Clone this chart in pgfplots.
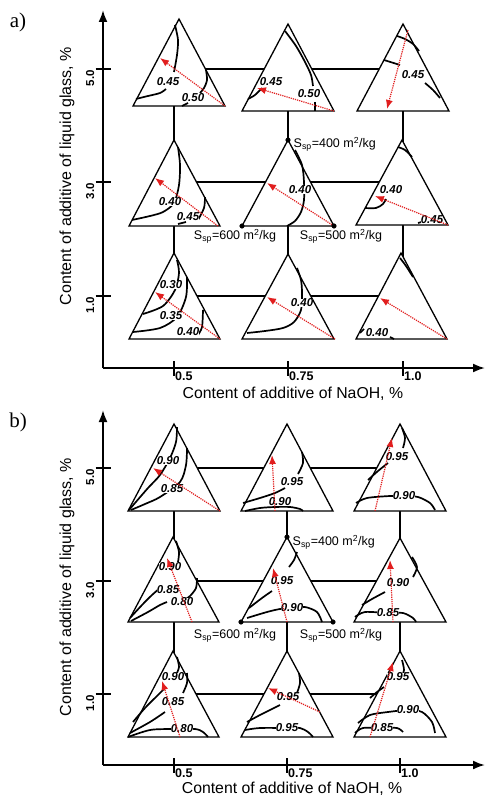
\documentclass[border=0pt]{standalone}
\usepackage{fontspec}
\setmainfont{Liberation Sans}
\newfontfamily\seriffont{Liberation Serif}
\usepackage{pgfplots}
\pgfplotsset{compat=1.18}
\usetikzlibrary{arrows.meta}
\definecolor{arr}{RGB}{225,30,30}
\tikzset{
  cont/.style={smooth, line width=1.7pt, black},
  tri/.style={fill=white, draw=black, line width=1.3pt, line join=miter},
  grd/.style={line width=1.3pt, black},
  rarr/.style={arr, line width=1.2pt, densely dotted, -{Latex[length=9pt,width=7pt]}},
  lab/.style={font=\bfseries\itshape\fontsize{11.5}{12}\selectfont, inner sep=0.3pt, fill=white},
  ssp/.style={font=\fontsize{12.5}{14}\selectfont, inner sep=0.5pt},
}
\pgfplotsset{panel/.style={
  x=1pt, y=1pt, xmin=103, xmax=485, ymax=-10,
  axis lines=left, clip=false,
  axis line style={line width=2pt, -{Latex[length=12pt,width=9pt]}},
  major tick length=15pt, tick align=center,
  tick style={line width=2pt, black},
  xticklabel style={font=\bfseries\fontsize{12.5}{14}\selectfont, anchor=north west, inner sep=1pt, yshift=5pt},
  yticklabel style={font=\bfseries\fontsize{11.5}{13}\selectfont, rotate=90, anchor=south east, inner sep=1pt},
  xlabel={Content of additive of NaOH, \%},
  ylabel={Content of additive of liquid glass, \%},
}}
\begin{document}
\begin{tikzpicture}
\path[use as bounding box] (0,0) rectangle (486pt,-799pt);
% ---------------- panel a ----------------
\begin{axis}[panel, ymin=-368, at={(103pt,-368pt)}, anchor=south west,
  xtick={174,288,403}, xticklabels={0.5,0.75,1.0},
  ytick={-296,-182,-69}, yticklabels={1.0,3.0,5.0},
  xlabel style={at={(axis description cs:0.497,-0.072)}, anchor=center, font=\fontsize{15.8}{18}\selectfont},
  ylabel style={at={(axis description cs:-0.094,0.536)}, anchor=center, font=\fontsize{16}{18}\selectfont}]
% grid
\addplot[grd] coordinates {(174,-69) (403,-69)};
\addplot[grd] coordinates {(174,-182) (403,-182)};
\addplot[grd] coordinates {(174,-296) (403,-296)};
\addplot[grd] coordinates {(174,-69) (174,-296)};
\addplot[grd] coordinates {(288,-69) (288,-296)};
\addplot[grd] coordinates {(403,-69) (403,-296)};
% triangles
\addplot[tri] coordinates {(179,-19) (133,-106) (225,-106)} -- cycle;
\addplot[tri] coordinates {(288,-24) (242,-111) (334,-111)} -- cycle;
\addplot[tri] coordinates {(403,-24) (357,-111) (449,-111)} -- cycle;
\addplot[tri] coordinates {(174,-140) (129,-226) (220,-226)} -- cycle;
\addplot[tri] coordinates {(288,-140) (242,-226) (334,-226)} -- cycle;
\addplot[tri] coordinates {(402,-140) (356,-225) (448,-225)} -- cycle;
\addplot[tri] coordinates {(174,-253) (129,-339) (220,-339)} -- cycle;
\addplot[tri] coordinates {(288,-254) (242,-339) (334,-339)} -- cycle;
\addplot[tri] coordinates {(401,-253) (356,-339) (447,-339)} -- cycle;
% contours a11
\addplot[cont] coordinates {(175,-25) (178,-40) (177,-55) (174,-72)};
\addplot[cont] coordinates {(136,-99) (148,-96) (160,-93) (166,-89)};
\addplot[cont] coordinates {(206,-70) (207,-80) (204,-88) (200,-93)};
\addplot[cont] coordinates {(182,-106) (188,-103)};
% a12
\addplot[cont] coordinates {(285,-31) (296,-46) (305,-62) (311,-75) (313,-86)};
\addplot[cont] coordinates {(248,-99) (255,-95) (262,-88)};
\addplot[cont] coordinates {(315,-102) (315,-111)};
% a13
\addplot[cont] coordinates {(397,-36) (405,-39) (413,-44) (419,-51)};
\addplot[cont] coordinates {(384,-60) (400,-65)};
\addplot[cont] coordinates {(425,-83) (433,-90) (440,-98)};
% a21
\addplot[cont] coordinates {(178,-147) (180,-165) (179,-185) (174,-203) (163,-212) (150,-216) (132,-220)};
\addplot[cont] coordinates {(205,-197) (204,-208) (198,-220)};
\addplot[cont] coordinates {(178,-224) (186,-222)};
% a22
\addplot[cont] coordinates {(295,-150) (302,-165) (304,-182) (304,-200) (301,-212) (295,-221) (287,-226)};
% a23
\addplot[cont] coordinates {(398,-147) (405,-150) (412,-157)};
\addplot[cont] coordinates {(365,-208) (376,-208) (383,-204) (386,-199)};
\addplot[cont] coordinates {(418,-223) (425,-221)};
% a31
\addplot[cont] coordinates {(177,-260) (179,-273) (175,-290) (163,-306) (143,-314)};
\addplot[cont] coordinates {(187,-277) (186,-297) (177,-317) (160,-328) (133,-332)};
\addplot[cont] coordinates {(203,-310) (202,-327) (198,-335)};
% a32
\addplot[cont] coordinates {(297,-268) (301,-280) (302,-293) (301,-310) (294,-322) (283,-328) (265,-331) (247,-333)};
% a33
\addplot[cont] coordinates {(400,-258) (406,-266) (413,-277)};
\addplot[cont] coordinates {(360,-333) (364,-329)};
\addplot[cont] coordinates {(390,-337) (394,-339)};
% labels
\node[lab] at (168,-82) {0.45};
\node[lab] at (193,-98) {0.50};
\node[lab] at (271,-82) {0.45};
\node[lab] at (309,-94) {0.50};
\node[lab] at (413,-75) {0.45};
\node[lab] at (170,-202) {0.40};
\node[lab] at (188,-217) {0.45};
\node[lab] at (300,-190) {0.40};
\node[lab] at (391,-190) {0.40};
\node[lab] at (432,-220) {0.45};
\node[lab] at (171,-285) {0.30};
\node[lab] at (171,-316) {0.35};
\node[lab] at (188,-332) {0.40};
\node[lab] at (302,-303) {0.40};
\node[lab] at (377,-333) {0.40};
% arrows
\addplot[rarr] coordinates {(225,-106) (160,-58)};
\addplot[rarr] coordinates {(334,-111) (257,-88)};
\addplot[rarr] coordinates {(408,-30) (387,-109)};
\addplot[rarr] coordinates {(218,-226) (155,-178)};
\addplot[rarr] coordinates {(334,-226) (267,-183)};
\addplot[rarr] coordinates {(448,-225) (375,-196)};
\addplot[rarr] coordinates {(220,-339) (155,-292)};
\addplot[rarr] coordinates {(335,-339) (267,-297)};
\addplot[rarr] coordinates {(447,-339) (380,-298)};
% dots and Ssp
\addplot[only marks, mark=*, mark size=2.3pt, black] coordinates {(288,-140) (242,-226) (334,-226)};
\node[ssp, anchor=west] at (293,-144) {S\textsubscript{sp}=400 m\textsuperscript{2}/kg};
\node[ssp] at (235,-236) {S\textsubscript{sp}=600 m\textsuperscript{2}/kg};
\node[ssp] at (341,-236) {S\textsubscript{sp}=500 m\textsuperscript{2}/kg};
\node[font=\seriffont\fontsize{21}{24}\selectfont] at (18,-22) {a)};
\end{axis}
% ---------------- panel b ----------------
\begin{axis}[panel, ymin=-365, at={(103pt,-765pt)}, anchor=south west,
  xtick={174,287,400}, xticklabels={0.5,0.75,1.0},
  ytick={-294,-181,-68}, yticklabels={1.0,3.0,5.0},
  xlabel style={at={(axis description cs:0.495,-0.068)}, anchor=center, font=\fontsize{15.8}{18}\selectfont},
  ylabel style={at={(axis description cs:-0.094,0.501)}, anchor=center, font=\fontsize{16}{18}\selectfont}]
\addplot[grd] coordinates {(174,-68) (400,-68)};
\addplot[grd] coordinates {(174,-181) (400,-181)};
\addplot[grd] coordinates {(174,-294) (400,-294)};
\addplot[grd] coordinates {(174,-68) (174,-294)};
\addplot[grd] coordinates {(287,-68) (287,-294)};
\addplot[grd] coordinates {(400,-68) (400,-294)};
\addplot[tri] coordinates {(174,-24) (128,-111) (220,-111)} -- cycle;
\addplot[tri] coordinates {(287,-24) (241,-111) (333,-111)} -- cycle;
\addplot[tri] coordinates {(400,-24) (354,-111) (446,-111)} -- cycle;
\addplot[tri] coordinates {(173,-137) (128,-222) (219,-222)} -- cycle;
\addplot[tri] coordinates {(287,-137) (241,-222) (333,-222)} -- cycle;
\addplot[tri] coordinates {(400,-138) (354,-222) (446,-222)} -- cycle;
\addplot[tri] coordinates {(173,-251) (128,-337) (219,-337)} -- cycle;
\addplot[tri] coordinates {(287,-251) (241,-337) (333,-337)} -- cycle;
\addplot[tri] coordinates {(400,-251) (354,-337) (446,-337)} -- cycle;
% b11
\addplot[cont] coordinates {(177,-27) (176,-42) (170,-58) (160,-75) (148,-88) (135,-103) (129,-110)};
\addplot[cont] coordinates {(187,-48) (186,-65) (180,-82) (160,-97) (145,-104) (131,-110)};
% b12
\addplot[cont] coordinates {(302,-52) (303,-63) (298,-74)};
\addplot[cont] coordinates {(243,-103) (260,-98) (275,-93) (285,-88)};
\addplot[cont] coordinates {(245,-111) (260,-108) (275,-107) (290,-107) (300,-109) (303,-111)};
% b13
\addplot[cont] coordinates {(402,-28) (405,-38) (403,-48)};
\addplot[cont] coordinates {(368,-80) (378,-71) (388,-63)};
\addplot[cont] coordinates {(356,-103) (367,-98) (390,-96) (404,-96) (418,-97) (430,-103) (435,-110)};
% b21
\addplot[cont] coordinates {(176,-141) (179,-152) (178,-162)};
\addplot[cont] coordinates {(130,-218) (142,-205) (152,-195) (160,-188)};
\addplot[cont] coordinates {(131,-221) (148,-212) (160,-205) (167,-202)};
\addplot[cont] coordinates {(197,-178) (196,-188) (190,-196) (184,-200)};
% b22
\addplot[cont] coordinates {(297,-152) (294,-160) (289,-167)};
\addplot[cont] coordinates {(249,-208) (262,-198) (272,-191)};
\addplot[cont] coordinates {(247,-218) (267,-212) (280,-209) (292,-208) (305,-207) (317,-212) (322,-222)};
% b23
\addplot[cont] coordinates {(412,-157) (417,-167) (413,-177)};
\addplot[cont] coordinates {(362,-205) (372,-199) (385,-192)};
\addplot[cont] coordinates {(355,-217) (365,-212) (388,-213) (403,-213) (413,-218) (416,-222)};
% b31
\addplot[cont] coordinates {(177,-257) (179,-267) (176,-275)};
\addplot[cont] coordinates {(187,-273) (187,-283) (183,-293)};
\addplot[cont] coordinates {(133,-322) (145,-308) (158,-295) (165,-288)};
\addplot[cont] coordinates {(130,-333) (150,-322) (165,-312)};
\addplot[cont] coordinates {(128,-337) (150,-330) (172,-329) (195,-329) (203,-332) (208,-337)};
% b32
\addplot[cont] coordinates {(299,-273) (300,-283) (297,-293)};
\addplot[cont] coordinates {(247,-322) (260,-315) (272,-309) (280,-305)};
\addplot[cont] coordinates {(245,-330) (260,-328) (287,-328) (300,-328) (308,-332) (313,-337)};
% b33
\addplot[cont] coordinates {(402,-260) (404,-270) (401,-278)};
\addplot[cont] coordinates {(370,-298) (377,-292) (384,-287)};
\addplot[cont] coordinates {(358,-323) (370,-315) (388,-312) (408,-310) (422,-312) (432,-322) (435,-333)};
\addplot[cont] coordinates {(355,-333) (363,-328) (382,-328) (397,-328) (403,-332)};
% labels
\node[lab] at (168,-61) {0.90};
\node[lab] at (172,-89) {0.85};
\node[lab] at (292,-82) {0.95};
\node[lab] at (280,-102) {0.90};
\node[lab] at (397,-57) {0.95};
\node[lab] at (404,-96) {0.90};
\node[lab] at (170,-167) {0.90};
\node[lab] at (168,-190) {0.85};
\node[lab] at (182,-202) {0.80};
\node[lab] at (282,-181) {0.95};
\node[lab] at (292,-208) {0.90};
\node[lab] at (398,-183) {0.90};
\node[lab] at (388,-213) {0.85};
\node[lab] at (173,-277) {0.90};
\node[lab] at (173,-302) {0.85};
\node[lab] at (182,-329) {0.80};
\node[lab] at (288,-297) {0.95};
\node[lab] at (287,-328) {0.95};
\node[lab] at (398,-277) {0.95};
\node[lab] at (408,-310) {0.90};
\node[lab] at (382,-328) {0.85};
% arrows
\addplot[rarr] coordinates {(220,-111) (153,-68)};
\addplot[rarr] coordinates {(275,-111) (272,-55)};
\addplot[rarr] coordinates {(375,-111) (392,-38)};
\addplot[rarr] coordinates {(192,-222) (167,-158)};
\addplot[rarr] coordinates {(287,-222) (273,-168)};
\addplot[rarr] coordinates {(393,-222) (390,-160)};
\addplot[rarr] coordinates {(180,-337) (162,-281)};
\addplot[rarr] coordinates {(320,-312) (268,-288)};
\addplot[rarr] coordinates {(370,-337) (393,-262)};
\addplot[only marks, mark=*, mark size=2.3pt, black] coordinates {(287,-137) (241,-222) (333,-222)};
\node[ssp, anchor=west] at (292,-142) {S\textsubscript{sp}=400 m\textsuperscript{2}/kg};
\node[ssp] at (235,-235) {S\textsubscript{sp}=600 m\textsuperscript{2}/kg};
\node[ssp] at (341,-235) {S\textsubscript{sp}=500 m\textsuperscript{2}/kg};
\node[font=\seriffont\fontsize{21}{24}\selectfont] at (18,-22) {b)};
\end{axis}
\end{tikzpicture}
\end{document}
